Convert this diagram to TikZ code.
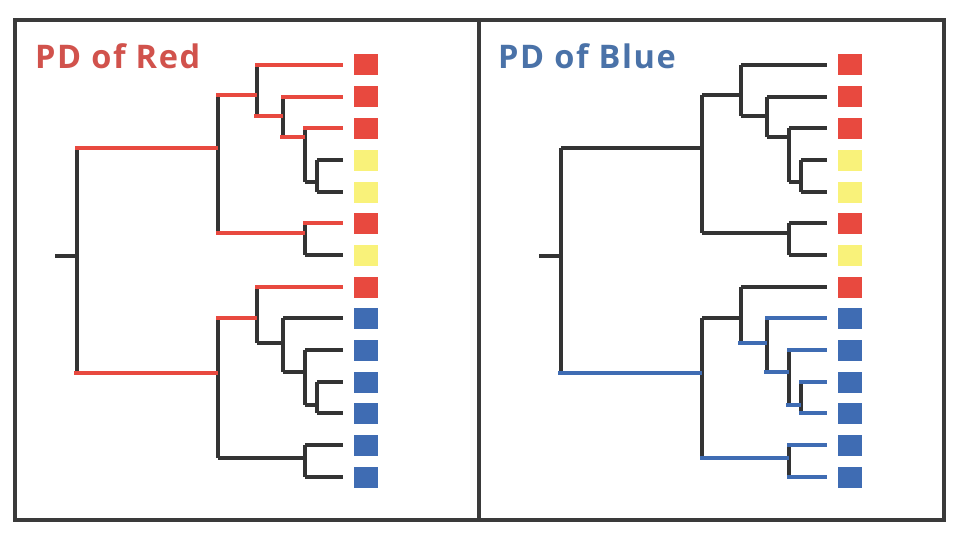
\documentclass[tikz,border=0pt]{standalone}
\usepackage{fontspec}
\newfontfamily\titlefont[LetterSpace=5]{Open Sans}
\definecolor{frm}{HTML}{3A3A3A}
\definecolor{brn}{HTML}{333333}
\definecolor{rd}{HTML}{E8493F}
\definecolor{rdt}{HTML}{D1524C}
\definecolor{bl}{HTML}{3F6CB3}
\definecolor{blt}{HTML}{4A72A8}
\definecolor{yl}{HTML}{F9F27A}
\tikzset{
  frameline/.style={draw=frm, line width=4pt},
  vline/.style={draw=brn, line width=4.6pt},
  hline/.style={line width=4.2pt},
  hblk/.style={hline, draw=brn},
  hred/.style={hline, draw=rd},
  hblu/.style={hline, draw=bl, line width=3.8pt},
  leafbox/.style={minimum width=24pt, minimum height=21pt, inner sep=0pt, draw=none},
  rsq/.style={leafbox, fill=rd},
  ysq/.style={leafbox, fill=yl},
  bsq/.style={leafbox, fill=bl},
  titletext/.style={font=\titlefont\bfseries\fontsize{32.5}{32.5}\selectfont, anchor=base west, inner sep=0pt}
}
\begin{document}
\begin{tikzpicture}[x=1pt, y=-1pt]
\useasboundingbox (0,0) rectangle (970,535);
\fill[white] (0,0) rectangle (970,535);
% frame
\coordinate (ftl) at (15,20);
\coordinate (fbr) at (944,520);
\coordinate (dtop) at (479,20);
\coordinate (dbot) at (479,520);
\draw[frameline] (ftl) rectangle (fbr);
\draw[frameline] (dtop) -- (dbot);
% titles
\node[titletext, text=rdt] (t1) at (35,69) {PD of Red};
\node[titletext, text=blt] (t2) at (498,69) {PD of Blue};

\foreach \p/\ox in {L/0, R/484}{
  \begin{scope}[xshift=\ox]
    % leaves: tips
    \foreach \i/\yy in {1/65,2/97,3/128,4/160,5/192,6/223,7/255,8/287,9/318,10/350,11/382,12/413,13/445,14/477}{
      \coordinate (\p l\i) at (343,\yy);
    }
    % internal nodes
    \coordinate (\p S) at (55,256);
    \coordinate (\p R) at (77,256);
    \coordinate (\p A) at (218,148);
    \coordinate (\p B) at (257,95);
    \coordinate (\p D) at (283,116);
    \coordinate (\p E) at (305,137);
    \coordinate (\p F) at (317,182);
    \coordinate (\p C) at (305,233);
    \coordinate (\p G) at (218,373);
    \coordinate (\p H) at (257,318);
    \coordinate (\p J) at (283,343);
    \coordinate (\p K) at (305,372);
    \coordinate (\p L) at (317,405);
    \coordinate (\p I) at (305,458);
    % vertical bars (black)
    \draw[vline] (\p R |- \p A) -- (\p R |- \p G);
    \draw[vline] (\p A |- \p B) -- (\p A |- \p C);
    \draw[vline] (\p B |- \p l1) -- (\p B |- \p D);
    \draw[vline] (\p D |- \p l2) -- (\p D |- \p E);
    \draw[vline] (\p E |- \p l3) -- (\p E |- \p F);
    \draw[vline] (\p F |- \p l4) -- (\p F |- \p l5);
    \draw[vline] (\p C |- \p l6) -- (\p C |- \p l7);
    \draw[vline] (\p G |- \p H) -- (\p G |- \p I);
    \draw[vline] (\p H |- \p l8) -- (\p H |- \p J);
    \draw[vline] (\p J |- \p l9) -- (\p J |- \p K);
    \draw[vline] (\p K |- \p l10) -- (\p K |- \p L);
    \draw[vline] (\p L |- \p l11) -- (\p L |- \p l12);
    \draw[vline] (\p I |- \p l13) -- (\p I |- \p l14);
    % root stub
    \draw[hblk] (\p S) -- (\p R);
  \end{scope}
}
% ---------- left panel: PD of Red ----------
\draw[hred] ([xshift=-2pt]LR |- LA) -- (LA);
\draw[hred] ([xshift=-2pt]LA |- LB) -- (LB);
\draw[hred] ([xshift=-2pt]LB |- Ll1) -- (Ll1);
\draw[hred] ([xshift=-3pt]LB |- LD) -- (LD);
\draw[hred] ([xshift=-2pt]LD |- Ll2) -- (Ll2);
\draw[hred] ([xshift=-3pt]LD |- LE) -- (LE);
\draw[hred] ([xshift=-2pt]LE |- Ll3) -- (Ll3);
\draw[hblk] (LE |- LF) -- (LF);
\draw[hblk] (LF |- Ll4) -- (Ll4);
\draw[hblk] (LF |- Ll5) -- (Ll5);
\draw[hred] ([xshift=-2pt]LA |- LC) -- (LC);
\draw[hred] ([xshift=-2pt]LC |- Ll6) -- (Ll6);
\draw[hblk] (LC |- Ll7) -- (Ll7);
\draw[hred] ([xshift=-3pt]LR |- LG) -- (LG);
\draw[hred] ([xshift=-2pt]LG |- LH) -- (LH);
\draw[hred] ([xshift=-2pt]LH |- Ll8) -- (Ll8);
\draw[hblk] (LH |- LJ) -- (LJ);
\draw[hblk] (LJ |- Ll9) -- (Ll9);
\draw[hblk] (LJ |- LK) -- (LK);
\draw[hblk] (LK |- Ll10) -- (Ll10);
\draw[hblk] (LK |- LL) -- (LL);
\draw[hblk] (LL |- Ll11) -- (Ll11);
\draw[hblk] (LL |- Ll12) -- (Ll12);
\draw[hblk] (LG |- LI) -- (LI);
\draw[hblk] (LI |- Ll13) -- (Ll13);
\draw[hblk] (LI |- Ll14) -- (Ll14);
% ---------- right panel: PD of Blue ----------
\draw[hblk] (RR |- RA) -- (RA);
\draw[hblk] (RA |- RB) -- (RB);
\draw[hblk] (RB |- Rl1) -- (Rl1);
\draw[hblk] (RB |- RD) -- (RD);
\draw[hblk] (RD |- Rl2) -- (Rl2);
\draw[hblk] (RD |- RE) -- (RE);
\draw[hblk] (RE |- Rl3) -- (Rl3);
\draw[hblk] (RE |- RF) -- (RF);
\draw[hblk] (RF |- Rl4) -- (Rl4);
\draw[hblk] (RF |- Rl5) -- (Rl5);
\draw[hblk] (RA |- RC) -- (RC);
\draw[hblk] (RC |- Rl6) -- (Rl6);
\draw[hblk] (RC |- Rl7) -- (Rl7);
\draw[hblu] ([xshift=-3pt]RR |- RG) -- (RG);
\draw[hblk] (RG |- RH) -- (RH);
\draw[hblk] (RH |- Rl8) -- (Rl8);
\draw[hblu] ([xshift=-3pt]RH |- RJ) -- (RJ);
\draw[hblu] ([xshift=-2pt]RJ |- Rl9) -- (Rl9);
\draw[hblu] ([xshift=-3pt]RJ |- RK) -- (RK);
\draw[hblu] ([xshift=-2pt]RK |- Rl10) -- (Rl10);
\draw[hblu] ([xshift=-3pt]RK |- RL) -- (RL);
\draw[hblu] ([xshift=-2pt]RL |- Rl11) -- (Rl11);
\draw[hblu] ([xshift=-2pt]RL |- Rl12) -- (Rl12);
\draw[hblu] ([xshift=-2pt]RG |- RI) -- (RI);
\draw[hblu] ([xshift=-2pt]RI |- Rl13) -- (Rl13);
\draw[hblu] ([xshift=-2pt]RI |- Rl14) -- (Rl14);
% leaf squares
\foreach \p/\ox in {L/0, R/484}{
  \foreach \i/\yy/\st in {1/65/rsq,2/97/rsq,3/128/rsq,4/160/ysq,5/192/ysq,6/223/rsq,7/255/ysq,8/287/rsq,9/318/bsq,10/350/bsq,11/382/bsq,12/413/bsq,13/445/bsq,14/477/bsq}{
    \node[\st] (\p sq\i) at (365.5+\ox,\yy) {};
  }
}
\end{tikzpicture}
\end{document}
